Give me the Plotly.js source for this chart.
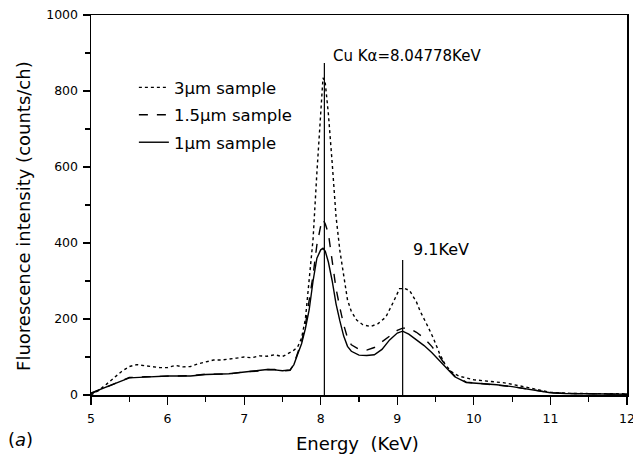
<!DOCTYPE html>
<html>
<head>
<meta charset="utf-8">
<script src="https://cdn.plot.ly/plotly-3.0.1.min.js"></script>
<style>body{margin:0;padding:0;background:#fff}#chart{width:633px;height:459px}</style>
</head>
<body>
<div id="chart"></div>
<script>
// 1 µm sample (solid)
const x1 = [5.0,5.1,5.2,5.3,5.4,5.5,5.7,6.0,6.3,6.5,6.8,7.0,7.2,7.3,7.4,7.5,7.6,7.65,7.7,7.75,7.8,7.85,7.9,7.95,8.0,8.03,8.06,8.1,8.15,8.2,8.25,8.3,8.35,8.4,8.5,8.6,8.7,8.8,8.9,9.0,9.07,9.15,9.25,9.35,9.45,9.55,9.65,9.75,9.9,10.1,10.3,10.5,10.7,10.9,11.0,11.2,11.5,12.0];
const y1 = [5,13,22,30,38,45,47,50,50,54,56,60,64,67,66,64,66,80,108,135,175,225,300,360,382,386,378,350,300,240,195,155,128,115,105,104,106,120,145,163,168,160,145,130,112,90,68,48,33,30,27,22,16,10,6,4,3,2];
// 1.5 µm sample (dashed)
const x2 = [5.0,5.1,5.2,5.3,5.4,5.5,5.7,6.0,6.3,6.5,6.8,7.0,7.2,7.3,7.4,7.5,7.6,7.65,7.7,7.75,7.8,7.85,7.9,7.95,8.0,8.03,8.06,8.1,8.15,8.2,8.25,8.3,8.35,8.4,8.5,8.6,8.7,8.8,8.9,9.0,9.07,9.15,9.25,9.35,9.45,9.55,9.65,9.75,9.9,10.1,10.3,10.5,10.7,10.9,11.0,11.2,11.5,12.0];
const y2 = [4,12,21,30,38,46,48,50,51,55,55,61,63,67,67,63,65,82,110,140,185,245,315,395,445,462,450,425,350,280,230,185,150,132,120,118,125,140,155,170,176,176,165,150,128,102,72,50,34,30,27,22,16,10,6,4,3,2];
// 3 µm sample (dotted)
const x3 = [5.0,5.1,5.2,5.3,5.4,5.5,5.6,5.7,5.8,5.9,6.0,6.1,6.2,6.3,6.4,6.5,6.6,6.7,6.8,6.9,7.0,7.1,7.2,7.3,7.4,7.5,7.6,7.65,7.7,7.75,7.8,7.85,7.9,7.95,8.0,8.03,8.06,8.1,8.15,8.2,8.25,8.3,8.35,8.4,8.47,8.55,8.65,8.75,8.85,8.95,9.03,9.1,9.16,9.25,9.3,9.4,9.47,9.55,9.62,9.7,9.8,10.0,10.2,10.4,10.6,10.8,11.0,11.3,12.0];
const y3 = [0,12,28,45,62,75,80,77,74,72,72,78,74,75,82,88,92,92,94,97,100,98,103,102,106,101,112,118,127,150,200,300,410,585,730,835,820,740,610,470,380,310,250,220,197,185,180,188,205,245,280,280,275,245,220,180,150,110,82,62,50,40,36,32,24,16,7,4,3];
const seriesNames = ['3\u00b5m sample','1.5\u00b5m sample','1\u00b5m sample'];
// reference lines: Cu Kα peak and 9.1 KeV
const refX = [8.04778, 9.07];
const refTop = [874, 355];
const refLabels = ['Cu K\u03b1=8.04778KeV','9.1KeV'];
const xTicks = [5,6,7,8,9,10,11,12];
const yTicks = [0,200,400,600,800,1000];

const font = 'DejaVu Sans, Arial, sans-serif';
const traces = [
  {x:x3,y:y3,name:seriesNames[0],legendgroup:'a',mode:'lines',line:{color:'#000',width:1.4,dash:'dot'}},
  {x:x2,y:y2,name:seriesNames[1],legendgroup:'b',mode:'lines',line:{color:'#000',width:1.4,dash:'dash'}},
  {x:x1,y:y1,name:seriesNames[2],legendgroup:'c',mode:'lines',line:{color:'#000',width:1.4}}
];
const shapes = refX.map((v,i)=>({type:'line',xref:'x',yref:'y',x0:v,x1:v,y0:0,y1:refTop[i],line:{color:'#000',width:1.2}}));
const annotations = [
  {xref:'x',yref:'y',x:refX[0]+0.01,y:refTop[0]+18,text:refLabels[0],showarrow:false,xanchor:'left',yanchor:'middle',xshift:6,font:{family:font,size:15,color:'#000'}},
  {xref:'x',yref:'y',x:refX[1]+0.1,y:refTop[1]+28,text:refLabels[1],showarrow:false,xanchor:'left',yanchor:'middle',xshift:1,font:{family:font,size:16,color:'#000'}},
  {xref:'paper',yref:'paper',x:0.498,y:-0.128,text:'Energy  (KeV)',showarrow:false,xanchor:'center',yanchor:'middle',font:{family:font,size:18,color:'#000'}},
  {xref:'paper',yref:'paper',x:-0.127,y:0.471,text:'Fluorescence intensity (counts/ch)',textangle:-90,showarrow:false,xanchor:'center',yanchor:'middle',font:{family:font,size:18,color:'#000'}},
  {xref:'paper',yref:'paper',x:-0.158,y:-0.118,text:'(<i>a</i>)',showarrow:false,xanchor:'left',yanchor:'middle',font:{family:font,size:18,color:'#000'}}
];
const layout = {
  width:633,height:459,
  margin:{l:91,r:6,t:15,b:64},
  paper_bgcolor:'#fff',plot_bgcolor:'#fff',
  showlegend:true,
  legend:{x:0.08,y:0.855,xanchor:'left',yanchor:'top',bgcolor:'rgba(0,0,0,0)',font:{family:font,size:16.5,color:'#000'},tracegroupgap:3},
  xaxis:{range:[5,12],tickvals:xTicks,ticktext:xTicks.map(String),ticks:'outside',ticklen:8,tickwidth:1.2,tickcolor:'#000',
    minor:{dtick:0.5,ticks:'outside',ticklen:5,tickcolor:'#000'},ticklabeloverflow:'allow',ticklabelstandoff:3,
    showline:true,linecolor:'#000',linewidth:1.5,mirror:true,showgrid:false,zeroline:false,
    tickfont:{family:font,size:12.5,color:'#000'}},
  yaxis:{range:[0,1000],tickvals:yTicks,ticktext:yTicks.map(String),ticks:'outside',ticklen:7,tickwidth:1.2,tickcolor:'#000',
    minor:{dtick:100,ticks:'outside',ticklen:5,tickcolor:'#000'},ticklabelstandoff:2,
    showline:true,linecolor:'#000',linewidth:1.5,mirror:true,showgrid:false,zeroline:false,
    tickfont:{family:font,size:12.5,color:'#000'}},
  shapes:shapes,annotations:annotations
};
Plotly.newPlot('chart',traces,layout,{displayModeBar:false,staticPlot:true});
</script>
</body>
</html>
